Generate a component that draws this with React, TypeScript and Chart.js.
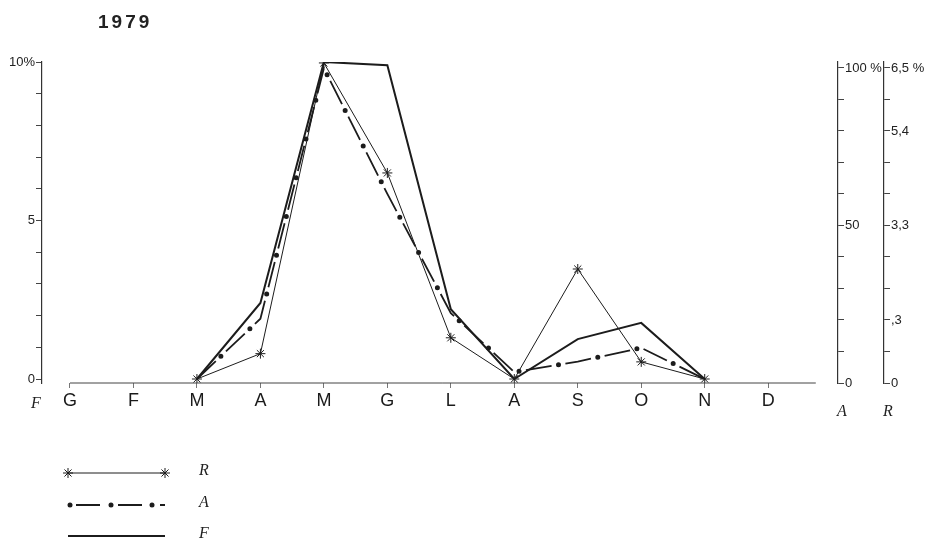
import React, { useEffect, useRef } from "react";
import { Chart, registerables } from "chart.js";

Chart.register(...registerables);

const months = ["G", "F", "M", "A", "M", "G", "L", "A", "S", "O", "N", "D"];
const seriesR = [null, null, 0, 0.8, 9.97, 6.5, 1.3, 0, 3.47, 0.54, 0, null];
const seriesA = [null, null, 0, 1.9, 9.8, 5.84, 2.08, 0.22, 0.55, 0.98, 0, null];
const seriesF = [null, null, 0, 2.4, 10, 9.9, 2.2, 0, 1.26, 1.77, 0, null];
const leftTicks = [0, 1, 2, 3, 4, 5, 6, 7, 8, 9, 10];
const leftLabels: Record<number, string> = { 10: "10%", 5: "5", 0: "0" };
const rightTicks = [0, 10, 20, 30, 40, 50, 60, 70, 80, 90, 100];
const aLabels: Record<number, string> = { 100: "100 %", 50: "50", 0: "0" };
const rLabels: Record<number, string> = { 100: "6,5 %", 80: "5,4", 50: "3,3", 20: ",3", 0: "0" };
const titleText = "1979";
const legendLabels = ["R", "A", "F"];

const INK = "#1c1c1c";

function toPoints(vals: (number | null)[]) {
  return vals.map((v, i) => ({ x: i, y: v }));
}

function drawStar(ctx: CanvasRenderingContext2D, x: number, y: number, r: number) {
  ctx.save();
  ctx.lineWidth = 1;
  ctx.strokeStyle = INK;
  ctx.beginPath();
  for (let k = 0; k < 4; k++) {
    const a = (k * Math.PI) / 4;
    ctx.moveTo(x - r * Math.cos(a), y - r * Math.sin(a));
    ctx.lineTo(x + r * Math.cos(a), y + r * Math.sin(a));
  }
  ctx.stroke();
  ctx.restore();
}

const decor = {
  id: "decor",
  afterDraw(chart: any) {
    const ctx: CanvasRenderingContext2D = chart.ctx;
    const xs = chart.scales.x;
    const area = chart.chartArea;
    ctx.save();
    ctx.strokeStyle = "#444";
    ctx.lineWidth = 1;
    ctx.beginPath();
    ctx.moveTo(xs.getPixelForValue(0), area.bottom);
    ctx.lineTo(xs.getPixelForValue(11.75), area.bottom);
    ctx.stroke();

    ctx.fillStyle = "#222";
    ctx.font = "bold 19px 'Liberation Sans', Arial, sans-serif";
    (ctx as any).letterSpacing = "3px";
    ctx.textBaseline = "middle";
    ctx.textAlign = "left";
    ctx.fillText(titleText, 98, 23);
    (ctx as any).letterSpacing = "0px";

    ctx.font = "italic 16px 'Liberation Serif', 'DejaVu Serif', serif";
    ctx.textAlign = "center";
    ctx.fillText("F", 36, 404);
    ctx.fillText("A", 842, 412);
    ctx.fillText("R", 888, 412);

    const lx0 = 68, lx1 = 165;
    const ys = [473, 505, 536];
    ctx.strokeStyle = INK;
    ctx.lineWidth = 1;
    ctx.beginPath();
    ctx.moveTo(lx0, ys[0]);
    ctx.lineTo(lx1, ys[0]);
    ctx.stroke();
    drawStar(ctx, lx0, ys[0], 5);
    drawStar(ctx, lx1, ys[0], 5);
    ctx.lineWidth = 1.8;
    ctx.setLineDash([24, 18]);
    ctx.lineDashOffset = -8;
    ctx.beginPath();
    ctx.moveTo(lx0, ys[1]);
    ctx.lineTo(lx1, ys[1]);
    ctx.stroke();
    ctx.setLineDash([]);
    ctx.fillStyle = INK;
    [70, 111, 152].forEach((px) => {
      ctx.beginPath();
      ctx.arc(px, ys[1], 2.5, 0, Math.PI * 2);
      ctx.fill();
    });
    ctx.lineWidth = 2;
    ctx.beginPath();
    ctx.moveTo(lx0, ys[2]);
    ctx.lineTo(lx1, ys[2]);
    ctx.stroke();

    ctx.fillStyle = "#222";
    ctx.font = "italic 16px 'Liberation Serif', 'DejaVu Serif', serif";
    ctx.textAlign = "left";
    legendLabels.forEach((t, i) => ctx.fillText(t, 199, ys[i] - 2));
    ctx.restore();
  },
};

export default function App() {
  const ref = useRef<HTMLCanvasElement | null>(null);
  useEffect(() => {
    document.body.style.margin = "0";
    document.body.style.background = "#fff";
    const canvas = ref.current!;
    const tickFont = { family: "'Liberation Sans', Arial, sans-serif", size: 13 };
    const chart = new Chart(canvas, {
      type: "line",
      data: {
        datasets: [
          {
            label: "F",
            data: toPoints(seriesF) as any,
            borderColor: INK,
            borderWidth: 2,
            pointRadius: 0,
            tension: 0,
            yAxisID: "y",
          },
          {
            label: "A",
            data: toPoints(seriesA) as any,
            borderColor: INK,
            borderWidth: 1.8,
            borderDash: [26, 14],
            pointRadius: 0,
            tension: 0,
            yAxisID: "y",
          },
          {
            label: "A dots",
            data: toPoints(seriesA) as any,
            borderColor: INK,
            borderWidth: 5,
            borderCapStyle: "round",
            borderDash: [0, 40],
            borderDashOffset: 7,
            pointRadius: 0,
            tension: 0,
            yAxisID: "y",
          },
          {
            label: "R",
            data: toPoints(seriesR) as any,
            borderColor: INK,
            borderWidth: 1,
            pointStyle: "star",
            pointRadius: 5,
            pointBorderWidth: 1,
            pointBorderColor: INK,
            pointBackgroundColor: INK,
            tension: 0,
            yAxisID: "y",
          },
        ],
      },
      options: {
        responsive: false,
        animation: false,
        layout: { padding: { top: 62, left: 0, right: 0, bottom: 0 } },
        plugins: { legend: { display: false }, tooltip: { enabled: false }, title: { display: false } },
        scales: {
          x: {
            type: "linear",
            position: "bottom",
            min: -0.441,
            max: 12.1,
            afterBuildTicks: (s: any) => {
              s.ticks = months.map((_, i) => ({ value: i }));
            },
            afterFit: (s: any) => {
              s.height = 155;
            },
            ticks: {
              autoSkip: false,
              maxRotation: 0,
              padding: 2,
              color: "#1a1a1a",
              font: { family: "'Liberation Sans', Arial, sans-serif", size: 18 },
              callback: (v: any) => months[v] ?? "",
            },
            grid: { drawOnChartArea: false, tickLength: 5, color: "#777" },
            border: { display: false },
          },
          y: {
            type: "linear",
            position: "left",
            min: -0.126,
            max: 10,
            afterBuildTicks: (s: any) => {
              s.ticks = leftTicks.map((v) => ({ value: v }));
            },
            afterFit: (s: any) => {
              s.width = 42;
            },
            ticks: {
              padding: 1,
              color: "#222",
              font: tickFont,
              callback: (v: any) => leftLabels[v] ?? "",
            },
            grid: { drawOnChartArea: false, tickLength: 6, color: "#444" },
            border: { display: true, color: "#333", width: 1.2 },
          },
          yA: {
            type: "linear",
            position: "right",
            weight: 0,
            min: 0,
            max: 101.9,
            afterBuildTicks: (s: any) => {
              s.ticks = rightTicks.map((v) => ({ value: v }));
            },
            afterFit: (s: any) => {
              s.width = 46;
            },
            ticks: {
              padding: 1,
              color: "#222",
              font: tickFont,
              callback: (v: any) => aLabels[v] ?? "",
            },
            grid: { drawOnChartArea: false, tickLength: 6, color: "#444" },
            border: { display: true, color: "#333", width: 1.2 },
          },
          yR: {
            type: "linear",
            position: "right",
            weight: 1,
            min: 0,
            max: 101.9,
            afterBuildTicks: (s: any) => {
              s.ticks = rightTicks.map((v) => ({ value: v }));
            },
            afterFit: (s: any) => {
              s.width = 46;
            },
            ticks: {
              padding: 1,
              color: "#222",
              font: tickFont,
              callback: (v: any) => rLabels[v] ?? "",
            },
            grid: { drawOnChartArea: false, tickLength: 6, color: "#444" },
            border: { display: true, color: "#333", width: 1.2 },
          },
        },
      } as any,
      plugins: [decor],
    });
    return () => chart.destroy();
  }, []);
  return (
    <canvas ref={ref} width={930} height={538} style={{ display: "block", width: 930, height: 538 }} />
  );
}
